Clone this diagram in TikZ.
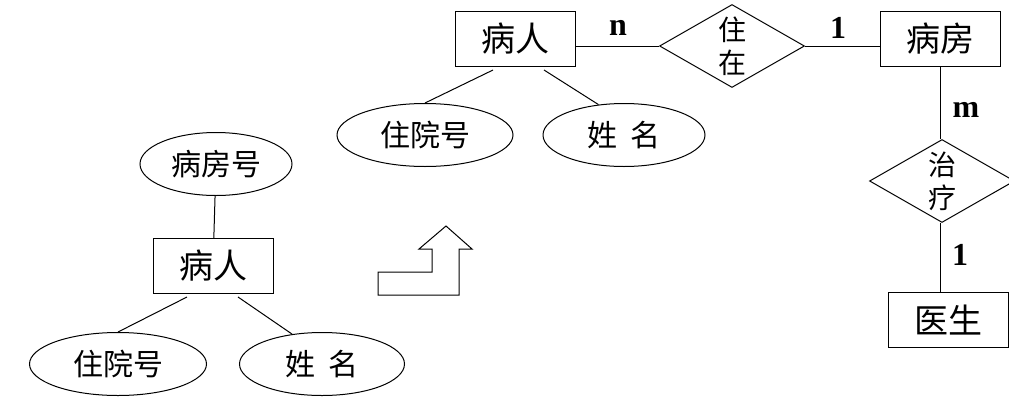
\documentclass[tikz,border=0pt]{standalone}
\usepackage{fontspec}
\setmainfont{Liberation Serif}
\newfontfamily\cjk{Noto Sans CJK SC}
\usetikzlibrary{shapes.geometric}
\begin{document}
\begin{tikzpicture}[x=1pt,y=-1pt,
  line width=1pt,
  entity/.style={draw, rectangle, inner sep=0pt, minimum width=120pt, minimum height=55pt, font=\cjk\fontsize{34}{36}\selectfont},
  attr/.style={draw, ellipse, inner sep=0pt, minimum height=63pt, font=\cjk\fontsize{30}{32}\selectfont},
  rel/.style={draw, diamond, aspect=1.75, inner sep=0pt, minimum width=145pt, minimum height=83pt, align=center, font=\cjk\fontsize{28}{33}\selectfont},
  card/.style={font=\bfseries\fontsize{32}{34}\selectfont, inner sep=0pt},
  link/.style={draw, line width=1pt}
]
\useasboundingbox (0,0) rectangle (1009,410);

% left group
\node[attr, minimum width=152pt] (lroomno) at (216,164) {病房号};
\node[entity] (lpat) at (213,266) {病人};
\node[attr, minimum width=177pt] (lid) at (118,364) {住院号};
\node[attr, minimum width=165pt] (lname) at (322,364) {姓\hspace{0.45em}名};
\draw[link] (lroomno) -- (lpat);
\coordinate (la) at (187,297);
\coordinate (lb) at (238,297);
\draw[link] (la) -- (lid.north);
\draw[link] (lb) -- (lname.135);

% arrow
\draw[line width=1pt] (378,295) -- (378,272) -- (432,272) -- (432,249) -- (419,249) -- (446,226) -- (472,249) -- (459,249) -- (459,295) -- cycle;

% top group
\node[entity] (pat) at (515,39) {病人};
\node[attr, minimum width=176pt] (id) at (425,135) {住院号};
\node[attr, minimum width=162pt] (name) at (624,135) {姓\hspace{0.45em}名};
\coordinate (pa) at (493,70);
\coordinate (pb) at (544,70);
\draw[link] (pa) -- (id.north);
\draw[link] (pb) -- (name.130);

\node[rel] (live) at (732,46) {住\\在};
\node[entity] (room) at (940,39) {病房};
\draw[link] (pat.east |- live.west) -- (live.west);
\draw[link] (live.east) -- (room.west |- live.east);
\node[card] (cn) at (618,28) {n};
\node[card] (c1) at (838,28) {1};

\node[rel] (treat) at (942,181) {治\\疗};
\node[entity] (doc) at (948,320) {医生};
\coordinate (rt) at (940,67);
\draw[link] (rt) -- (treat.north -| rt);
\draw[link] (treat.south -| rt) -- (doc.north -| rt);
\node[card] (cm) at (966,110) {m};
\node[card] (c2) at (960,255) {1};
\end{tikzpicture}
\end{document}
